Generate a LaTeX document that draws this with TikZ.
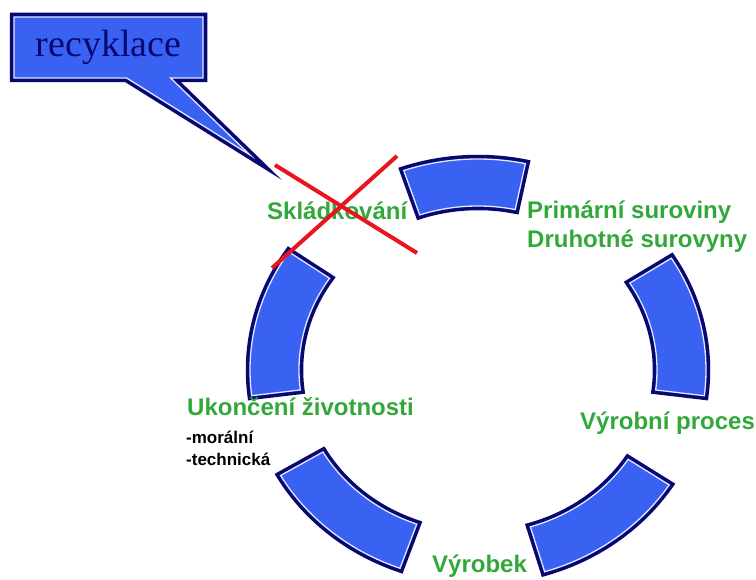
\documentclass[tikz,border=0pt]{standalone}
\usepackage{fontspec}
\setmainfont{Liberation Sans}
\newfontfamily\timesfont{Liberation Serif}
\usepackage{tikz}
\usepackage{xcolor}
\usetikzlibrary{shapes.callouts}

\definecolor{segblue}{RGB}{58,98,242}
\definecolor{segnavy}{RGB}{8,8,115}
\definecolor{segedge}{RGB}{225,232,255}
\definecolor{labgreen}{RGB}{50,168,58}
\definecolor{crossred}{RGB}{232,20,30}

\begin{document}
\begin{tikzpicture}[x=1pt,y=1pt,
    seg/.style={preaction={draw=segnavy,line width=8.5pt},fill=segblue,draw=segedge,line width=1.3pt},
    lab/.style={text=labgreen,font=\fontsize{24}{29}\selectfont\bfseries,inner sep=0pt,anchor=base west},
    sub/.style={text=black,font=\fontsize{17}{20}\selectfont\bfseries,inner sep=0pt,anchor=base west}]
    \useasboundingbox (0,0) rectangle (756,-580);
    \begin{scope}[shift={(478,-370)}]
        \foreach \a/\b in {78/109,-7/32,-73/-33,210/250,146/187}
            \path[seg] (\a:228pt and 211pt) arc[start angle=\a,end angle=\b,x radius=228pt,y radius=211pt]
                -- (\b:179pt and 164pt) arc[start angle=\b,end angle=\a,x radius=179pt,y radius=164pt] -- cycle;
    \end{scope}
    \node[rectangle callout,callout absolute pointer={(250,-155)},callout pointer width=44pt,
          minimum width=189pt,minimum height=61pt,inner sep=0pt,
          preaction={draw=segnavy,line width=8.5pt},fill=segblue,draw=segedge,line width=1.3pt,
          text=segnavy,font=\timesfont\fontsize{38}{42}\selectfont] (recy) at (108.5,-47.5) {recyklace};
    \node[lab] (skl) at (267,-220) {Skládkování};
    \node[lab] (prim) at (527,-219) {Primární suroviny};
    \node[lab] (druh) at (527,-248) {Druhotné surovyny};
    \node[lab] (vyrp) at (580,-430) {Výrobní proces};
    \node[lab] (vyrb) at (432,-572) {Výrobek};
    \node[lab] (ukon) at (187,-415) {Ukončení životnosti};
    \node[sub] (mor) at (186,-443) {-morální};
    \node[sub] (tech) at (186,-465) {-technická};
    \draw[crossred,line width=4pt] (275,-165) -- (417,-253);
    \draw[crossred,line width=4pt] (397,-156) -- (272,-268);
\end{tikzpicture}
\end{document}
